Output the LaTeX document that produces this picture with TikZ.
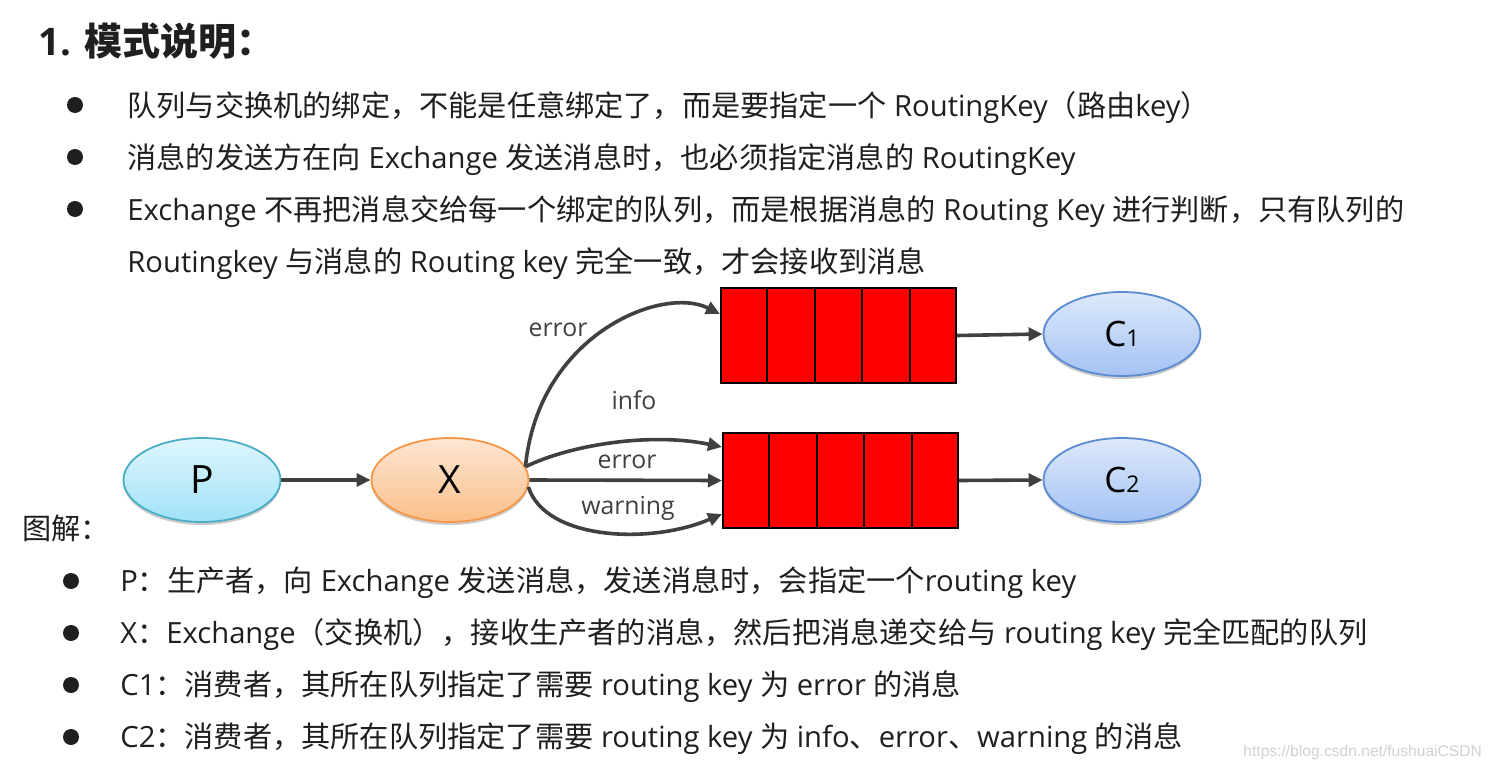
\documentclass[tikz,border=0pt]{standalone}
\usepackage{fontspec}
\setmainfont{Open Sans}
\newfontfamily\cjk{Noto Sans CJK SC}
\newfontfamily\wmfont{Liberation Sans}
\newcommand\zhs[1]{{\cjk #1}}
\usetikzlibrary{arrows.meta,shadows,calc,shapes.geometric}
\definecolor{txt}{HTML}{1F1F1F}
\definecolor{arr}{HTML}{404040}
\definecolor{qred}{HTML}{FF0000}
\definecolor{ptop}{HTML}{DFF6FD}
\definecolor{pbot}{HTML}{9FE2F8}
\definecolor{pbor}{HTML}{4BACC6}
\definecolor{xtop}{HTML}{FDE6D3}
\definecolor{xbot}{HTML}{FBBF8A}
\definecolor{xbor}{HTML}{F79646}
\definecolor{ctop}{HTML}{DDE9FB}
\definecolor{cbot}{HTML}{A4C2F4}
\definecolor{cbor}{HTML}{5B8BD0}
\begin{document}
\begin{tikzpicture}[x=0.5pt,y=-0.5pt,
  textline/.style={inner sep=0pt, anchor=base west, text=txt, font=\fontsize{14.6}{17}\selectfont},
  bul/.style={circle, fill=txt, inner sep=0pt, minimum size=8pt},
  ell/.style={ellipse, minimum width=78.5pt, minimum height=42pt, line width=0.9pt, inner sep=0pt,
    drop shadow={shadow xshift=0pt, shadow yshift=-1.5pt, opacity=0.2, fill=black}},
  pell/.style={ell, draw=pbor, top color=ptop, bottom color=pbot, font=\fontsize{19.5}{20}\selectfont},
  xell/.style={ell, draw=xbor, top color=xtop, bottom color=xbot, font=\fontsize{19.5}{20}\selectfont},
  cell/.style={ell, draw=cbor, top color=ctop, bottom color=cbot, font=\fontsize{17.5}{18}\selectfont},
  queue/.style={rectangle, draw=black, line width=1pt, fill=qred, minimum width=117.5pt, minimum height=47.5pt, inner sep=0pt},
  conn/.style={draw=arr, line width=1.8pt, -{Triangle[length=7pt,width=6.5pt]}},
  lab/.style={text=arr, inner sep=0pt, font=\fontsize{12.4}{14}\selectfont}
]
\useasboundingbox (0,0) rectangle (1496,771);
\fill[white] (0,0) rectangle (1496,771);

% title
\node[textline, font=\fontsize{19}{22}\selectfont\bfseries] (title) at (38,55) {1. \zhs{模式说明：}};

% top bullets
\node[bul] (b1) at (75,105) {};
\node[bul] (b2) at (75,157) {};
\node[bul] (b3) at (75,209) {};
\node[textline] (l1) at (127,116) {\zhs{队列与交换机的绑定，不能是任意绑定了，而是要指定一个} RoutingKey\zhs{（路由}key\zhs{）}};
\node[textline] (l2) at (127,168) {\zhs{消息的发送方在向} Exchange \zhs{发送消息时，也必须指定消息的} RoutingKey};
\node[textline] (l3) at (127,220) {Exchange \zhs{不再把消息交给每一个绑定的队列，而是根据消息的} Routing Key \zhs{进行判断，只有队列的}};
\node[textline] (l4) at (127,272) {Routingkey \zhs{与消息的} Routing key \zhs{完全一致，才会接收到消息}};

% diagram
\node[pell] (P) at (202,480) {P};
\node[xell] (X) at (450,480) {X};
\node[queue, anchor=north west] (q1) at (720,287) {};
\node[queue, anchor=north west] (q2) at (722,432) {};
\foreach \q in {q1,q2}{
  \foreach \i in {1,...,4}{
    \draw[line width=1pt] ($(\q.north west)!\i/5!(\q.north east)$) -- ($(\q.south west)!\i/5!(\q.south east)$);
  }
}
\node[cell] (C1) at (1122,334) {C{\fontsize{11.5}{12}\selectfont 1}};
\node[cell] (C2) at (1122,480) {C{\fontsize{11.5}{12}\selectfont 2}};

\draw[conn] (P) -- (X);
\draw[conn] (q1.east) -- (C1.west);
\draw[conn] (q2.east) -- (C2.west);
\draw[conn] (X.10) .. controls (538,335) and (662,285) .. ($(q1.north west)+(0,27)$);
\draw[conn] (X.10) .. controls (570,445) and (650,432) .. ($(q2.north west)+(0,15)$);
\draw[conn] (X.east) -- (q2.west);
\draw[conn] (X.-5) .. controls (545,540) and (650,545) .. ($(q2.south west)+(0,-15)$);

\node[lab] (le1) at (558,330) {error};
\node[lab] (li) at (634,400) {info};
\node[lab] (le2) at (627,462) {error};
\node[lab] (lw) at (628,508) {warning};

% bottom
\node[textline] (tj) at (22,539) {\zhs{图解：}};
\node[bul] (c1) at (71,581) {};
\node[bul] (c2) at (71,633) {};
\node[bul] (c3) at (71,685) {};
\node[bul] (c4) at (71,737) {};
\node[textline] (m1) at (120,591) {P\zhs{：生产者，向} Exchange \zhs{发送消息，发送消息时，会指定一个}routing key};
\node[textline] (m2) at (120,643) {X\zhs{：}Exchange\zhs{（交换机），接收生产者的消息，然后把消息递交给与} routing key \zhs{完全匹配的队列}};
\node[textline] (m3) at (120,695) {C1\zhs{：消费者，其所在队列指定了需要} routing key \zhs{为} error \zhs{的消息}};
\node[textline] (m4) at (120,747) {C2\zhs{：消费者，其所在队列指定了需要} routing key \zhs{为} info\zhs{、}error\zhs{、}warning \zhs{的消息}};

\node[inner sep=0pt, anchor=west, text=black!18, font=\wmfont\fontsize{7.8}{9}\selectfont] (wm) at (1243,752) {https://blog.csdn.net/fushuaiCSDN};
\end{tikzpicture}
\end{document}
